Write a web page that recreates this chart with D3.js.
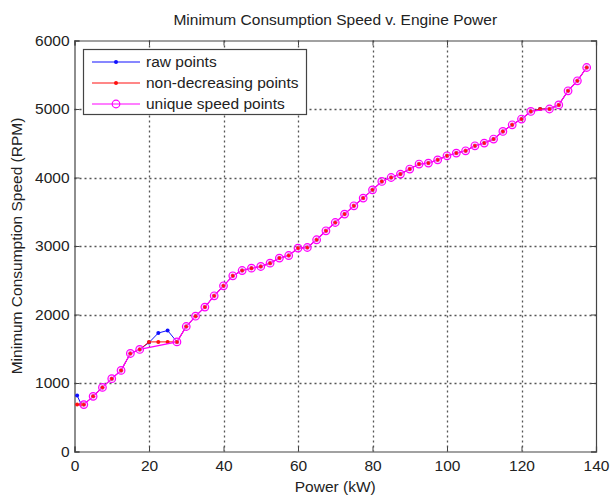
<!DOCTYPE html>
<html><head><meta charset="utf-8">
<script src="https://cdn.jsdelivr.net/npm/d3@7/dist/d3.min.js"></script>
<style>body{margin:0;background:#fff}svg{display:block}text{font-family:"Liberation Sans",Arial,sans-serif;fill:#222}</style>
</head><body><svg id="c" width="612" height="495"></svg>
<script>
const title = "Minimum Consumption Speed v. Engine Power";
const xLabel = "Power (kW)";
const yLabel = "Minimum Consumption Speed (RPM)";
const xTicks = [0,20,40,60,80,100,120,140];
const yTicks = [0,1000,2000,3000,4000,5000,6000];
const legendLabels = ["raw points","non-decreasing points","unique speed points"];

const rawPower = [0.7,1.8,2.5,5,7.5,10,12.5,15,17.5,20,22.5,25,27.5,30,32.5,35,37.5,40,42.5,45,47.5,50,52.5,55,57.5,60,62.5,65,67.5,70,72.5,75,77.5,80,82.5,85,87.5,90,92.5,95,97.5,100,102.5,105,107.5,110,112.5,115,117.5,120,122.5,125,127.5,130,132.5,135,137.5];
const rawSpeed = [817,690,685,805,936,1063,1184,1431,1490,1590,1730,1766,1600,1825,1975,2108,2273,2419,2565,2642,2677,2701,2750,2823,2861,2969,2978,3091,3222,3343,3466,3587,3699,3820,3942,4000,4050,4123,4196,4210,4258,4317,4356,4390,4463,4502,4561,4672,4769,4853,4964,5000,5000,5060,5266,5412,5606];
const ndSpeed = [685,685,685,805,936,1063,1184,1431,1490,1600,1600,1600,1600,1825,1975,2108,2273,2419,2565,2642,2677,2701,2750,2823,2861,2969,2978,3091,3222,3343,3466,3587,3699,3820,3942,4000,4050,4123,4196,4210,4258,4317,4356,4390,4463,4502,4561,4672,4769,4853,4964,5000,5000,5060,5266,5412,5606];
const uniqPower = [2.5,5,7.5,10,12.5,15,17.5,27.5,30,32.5,35,37.5,40,42.5,45,47.5,50,52.5,55,57.5,60,62.5,65,67.5,70,72.5,75,77.5,80,82.5,85,87.5,90,92.5,95,97.5,100,102.5,105,107.5,110,112.5,115,117.5,120,122.5,127.5,130,132.5,135,137.5];
const uniqSpeed = [685,805,936,1063,1184,1431,1490,1600,1825,1975,2108,2273,2419,2565,2642,2677,2701,2750,2823,2861,2969,2978,3091,3222,3343,3466,3587,3699,3820,3942,4000,4050,4123,4196,4210,4258,4317,4356,4390,4463,4502,4561,4672,4769,4853,4964,5000,5060,5266,5412,5606];

const L=74.5,R=596,T=40.5,B=451.5;
const FS="15.5px";
const svg=d3.select("#c");
const x=d3.scaleLinear().domain([0,140]).range([L,R]);
const y=d3.scaleLinear().domain([0,6000]).range([B,T]);

// grid
const g=svg.append("g");
g.selectAll(".gx").data(xTicks.slice(1,-1)).join("line")
 .attr("x1",d=>Math.round(x(d))+0.5).attr("x2",d=>Math.round(x(d))+0.5).attr("y1",T).attr("y2",B)
 .attr("stroke","#555").attr("stroke-width",1.3).attr("stroke-dasharray","2,3");
g.selectAll(".gy").data(yTicks.slice(1,-1)).join("line")
 .attr("y1",d=>Math.round(y(d))+0.5).attr("y2",d=>Math.round(y(d))+0.5).attr("x1",L).attr("x2",R)
 .attr("stroke","#555").attr("stroke-width",1.3).attr("stroke-dasharray","2,3");

// axes
const ax=svg.append("g").attr("transform",`translate(0,${B})`).call(d3.axisBottom(x).tickValues(xTicks).tickSize(-5).tickPadding(8).tickFormat(d3.format("d")));
const ay=svg.append("g").attr("transform",`translate(${L},0)`).call(d3.axisLeft(y).tickValues(yTicks).tickSize(-5).tickPadding(5).tickFormat(d3.format("d")));
const at=svg.append("g").attr("transform",`translate(0,${T})`).call(d3.axisTop(x).tickValues(xTicks).tickSize(-5).tickFormat(""));
const ar=svg.append("g").attr("transform",`translate(${R},0)`).call(d3.axisRight(y).tickValues(yTicks).tickSize(-5).tickFormat(""));
[ax,ay,at,ar].forEach(a=>{a.select(".domain").attr("stroke","#444").attr("stroke-width",1.2);a.selectAll(".tick line").attr("stroke","#444");a.selectAll("text").style("font-size",FS).attr("fill","#333").style("font-family","Liberation Sans, Arial, sans-serif");});

// lines
const line=d3.line().x(d=>x(d[0])).y(d=>y(d[1]));
const raw=rawPower.map((p,i)=>[p,rawSpeed[i]]);
const nd=rawPower.map((p,i)=>[p,ndSpeed[i]]);
const uq=uniqPower.map((p,i)=>[p,uniqSpeed[i]]);
svg.append("path").attr("d",line(raw)).attr("fill","none").attr("stroke","#1010ff").attr("stroke-width",1);
svg.selectAll(".rp").data(raw).join("circle").attr("cx",d=>x(d[0])).attr("cy",d=>y(d[1])).attr("r",2).attr("fill","#1010ff");
svg.append("path").attr("d",line(nd)).attr("fill","none").attr("stroke","#ff1010").attr("stroke-width",1);
svg.selectAll(".np").data(nd).join("circle").attr("cx",d=>x(d[0])).attr("cy",d=>y(d[1])).attr("r",2).attr("fill","#ff1010");
svg.append("path").attr("d",line(uq)).attr("fill","none").attr("stroke","#ff00ff").attr("stroke-width",1.2);
svg.selectAll(".up").data(uq).join("circle").attr("cx",d=>x(d[0])).attr("cy",d=>y(d[1])).attr("r",3.8).attr("fill","rgba(255,150,255,0.35)").attr("stroke","#ff00ff").attr("stroke-width",1.2);
svg.selectAll(".ud").data(uq).join("circle").attr("cx",d=>x(d[0])).attr("cy",d=>y(d[1])).attr("r",1.6).attr("fill","#ff1010");

// legend
const lg=svg.append("g");
lg.append("rect").attr("x",83.5).attr("y",49.5).attr("width",223).attr("height",65).attr("fill","#fff").attr("stroke","#444").attr("stroke-width",1.2);
const lc=["#1010ff","#ff1010","#ff00ff"];
legendLabels.forEach((t,i)=>{
  const yy=62+i*21;
  lg.append("line").attr("x1",92).attr("x2",140).attr("y1",yy).attr("y2",yy).attr("stroke",lc[i]).attr("stroke-width",1.2);
  if(i<2) lg.append("circle").attr("cx",116).attr("cy",yy).attr("r",2).attr("fill",lc[i]);
  else lg.append("circle").attr("cx",116).attr("cy",yy).attr("r",3.8).attr("fill","none").attr("stroke",lc[i]).attr("stroke-width",1.2);
  lg.append("text").attr("x",146).attr("y",yy+5).style("font-size",FS).text(t);
});

// titles
svg.append("text").attr("x",(L+R)/2).attr("y",25).attr("text-anchor","middle").style("font-size",FS).text(title);
svg.append("text").attr("x",(L+R)/2).attr("y",492).attr("text-anchor","middle").style("font-size",FS).text(xLabel);
svg.append("text").attr("transform",`translate(22,${(T+B)/2}) rotate(-90)`).attr("text-anchor","middle").style("font-size",FS).text(yLabel);
</script></body></html>
